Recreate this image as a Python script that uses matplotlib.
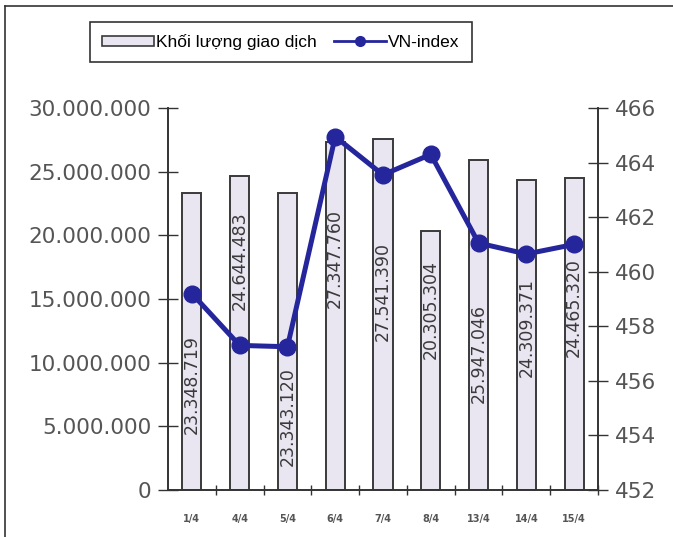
import matplotlib.pyplot as plt
import matplotlib.ticker as mticker
from matplotlib.lines import Line2D
from matplotlib.patches import Patch

# data
dates = ['1/4', '4/4', '5/4', '6/4', '7/4', '8/4', '13/4', '14/4', '15/4']
volume = [23348719, 24644483, 23343120, 27347760, 27541390,
          20305304, 25947046, 24309371, 24465320]
vn_index = [459.2, 457.3, 457.25, 464.95, 463.55, 464.3, 461.05, 460.65, 461.0]
volume_labels = ['23.348.719', '24.644.483', '23.343.120', '27.347.760', '27.541.390',
                 '20.305.304', '25.947.046', '24.309.371', '24.465.320']
# vertical centre of each value label (left axis units)
label_y = [8.25e6, 18.0e6, 5.8e6, 18.2e6, 15.6e6, 14.2e6, 10.7e6, 12.8e6, 14.3e6]

bar_fill = '#e9e6f2'
bar_edge = '#3a3a3a'
line_col = '#25259c'
tick_col = '#555555'

plt.rcParams['font.family'] = ['DejaVu Sans']

fig = plt.figure(figsize=(6.73, 5.37), dpi=100)
ax = fig.add_axes([0.2496, 0.0875, 0.639, 0.7114])
ax2 = ax.twinx()

x = list(range(len(dates)))
ax.bar(x, volume, width=0.4, color=bar_fill, edgecolor=bar_edge, linewidth=1.4, zorder=2)
for xi, lab, ly in zip(x, volume_labels, label_y):
    ax.text(xi, ly, lab, rotation=90, ha='center', va='center',
            fontsize=12.5, color='#3a3a3a', zorder=3)

ax2.plot(x, vn_index, color=line_col, linewidth=3.6, marker='o', markersize=12,
         zorder=4)

ax.set_xlim(-0.5, len(dates) - 0.5)
ax.set_ylim(0, 30000000)
ax2.set_ylim(452, 466)

ax.yaxis.set_major_locator(mticker.MultipleLocator(5000000))
ax.yaxis.set_major_formatter(mticker.FuncFormatter(
    lambda v, p: '{:,.0f}'.format(v).replace(',', '.')))
ax2.yaxis.set_major_locator(mticker.MultipleLocator(2))

ax.set_xticks(x)
ax.set_xticklabels(dates, fontsize=7, fontweight='bold', color=tick_col)
ax.set_xticks([i - 0.5 for i in range(1, len(dates))] + [len(dates) - 0.5], minor=True)
ax.tick_params(axis='x', which='major', length=0, pad=17)
ax.tick_params(axis='x', which='minor', direction='inout', length=7, width=1, color='#333333')
ax.tick_params(axis='y', direction='inout', length=14, width=1, color='#333333',
               labelsize=15.5, labelcolor=tick_col, pad=5)
ax2.tick_params(axis='y', direction='inout', length=14, width=1, color='#333333',
                labelsize=15.5, labelcolor=tick_col, pad=5)

for a in (ax, ax2):
    a.spines['top'].set_visible(False)
    for s in ('left', 'right', 'bottom'):
        a.spines[s].set_color('#333333')
        a.spines[s].set_linewidth(1.2)
    a.patch.set_visible(False)
ax2.set_zorder(ax.get_zorder() + 1)

handles = [Patch(facecolor=bar_fill, edgecolor=bar_edge, linewidth=1.2),
           Line2D([0], [0], color=line_col, linewidth=2, marker='o', markersize=7)]
leg = fig.legend(handles, ['Khối lượng giao dịch', 'VN-index'], loc='center',
                 bbox_to_anchor=(0.4175, 0.922), ncol=2, frameon=True,
                 prop={'family': ['Liberation Sans'], 'size': 12.5},
                 fancybox=False, edgecolor='black', handlelength=3.0, handleheight=0.5,
                 handletextpad=0.1, columnspacing=1.0, borderpad=0.7)
leg.get_frame().set_linewidth(1.2)

# outer chart border
fig.add_artist(Line2D([0.008, 0.008], [0, 0.989], color='#333333', linewidth=1.2,
                      transform=fig.transFigure))
fig.add_artist(Line2D([0.008, 1], [0.989, 0.989], color='#333333', linewidth=1.2,
                      transform=fig.transFigure))

fig.savefig('out.png', dpi=100)
